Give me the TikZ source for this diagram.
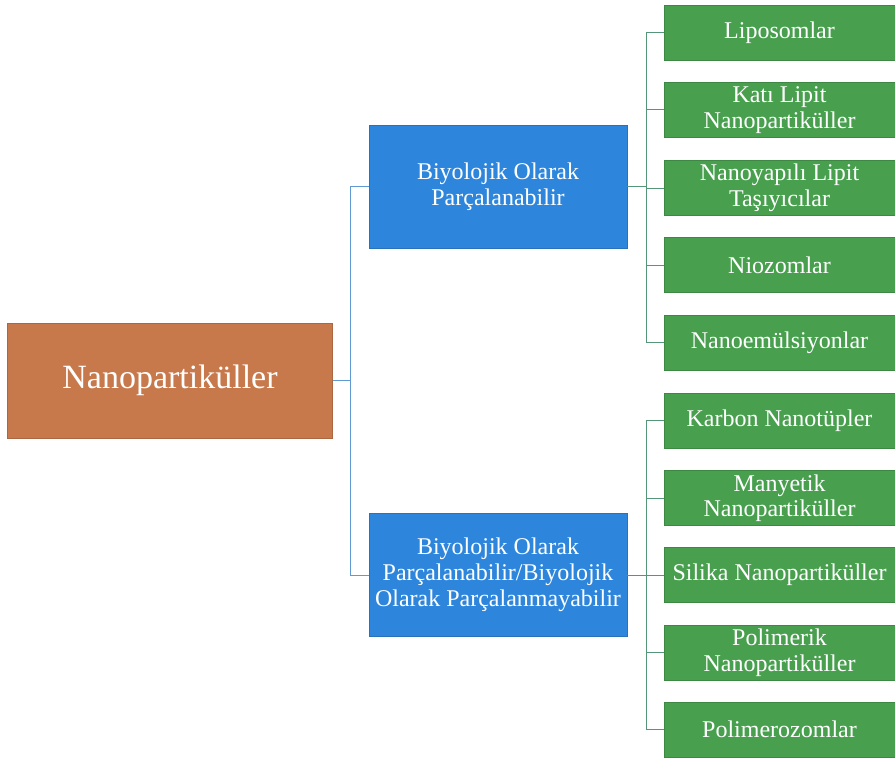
\documentclass[tikz,border=0pt]{standalone}
\usepackage{fontspec}
\setmainfont{Liberation Serif}
\definecolor{rootc}{RGB}{200,121,76}
\definecolor{bluec}{RGB}{46,134,220}
\definecolor{greenc}{RGB}{72,160,78}
\definecolor{lineb}{RGB}{95,155,210}
\definecolor{lineg}{RGB}{85,150,120}
\tikzset{
  rootbox/.style={fill=rootc, draw=rootc!85!black, line width=0.6pt, text=white, minimum width=325pt, minimum height=115pt, align=center, font=\fontsize{34}{36}\selectfont, inner sep=0pt},
  bluebox/.style={fill=bluec, draw=bluec!85!black, line width=0.6pt, text=white, minimum width=258pt, minimum height=123pt, align=center, font=\fontsize{24}{26}\selectfont, inner sep=0pt},
  greenbox/.style={fill=greenc, draw=greenc!85!black, line width=0.6pt, text=white, minimum width=231pt, minimum height=55pt, align=center, font=\fontsize{24}{25.5}\selectfont, inner sep=0pt},
  conb/.style={draw=lineb, line width=1pt},
  cong/.style={draw=lineg, line width=1pt}
}
\begin{document}
\begin{tikzpicture}[x=1pt,y=-1pt]
\useasboundingbox (0,0) rectangle (895,760);
\node[rootbox] (root) at (170,380.5) {Nanopartiküller};
\node[bluebox] (b1) at (498,186.5) {Biyolojik Olarak\\Parçalanabilir};
\node[bluebox] (b2) at (498,575) {Biyolojik Olarak\\Parçalanabilir/Biyolojik\\Olarak Parçalanmayabilir};
\node[greenbox] (g1) at (779.5,32.5) {Liposomlar};
\node[greenbox] (g2) at (779.5,110) {Katı Lipit\\Nanopartiküller};
\node[greenbox] (g3) at (779.5,188) {Nanoyapılı Lipit\\Taşıyıcılar};
\node[greenbox] (g4) at (779.5,265) {Niozomlar};
\node[greenbox] (g5) at (779.5,342.5) {Nanoemülsiyonlar};
\node[greenbox] (g6) at (779.5,420.5) {Karbon Nanotüpler};
\node[greenbox] (g7) at (779.5,498) {Manyetik\\Nanopartiküller};
\node[greenbox] (g8) at (779.5,575) {Silika Nanopartiküller};
\node[greenbox] (g9) at (779.5,652.5) {Polimerik\\Nanopartiküller};
\node[greenbox] (g10) at (779.5,729.5) {Polimerozomlar};
\coordinate (t0) at (350,380.5);
\coordinate (t1) at (646,186.5);
\coordinate (t2) at (646,575);
\draw[conb] (root.east) -- (t0);
\draw[conb] (t0) |- (b1.west);
\draw[conb] (t0) |- (b2.west);
\draw[cong] (b1.east) -- (t1);
\draw[cong] (b2.east) -- (t2);
\foreach \g in {g1,g2,g3,g4,g5} \draw[cong] (t1) |- (\g.west);
\foreach \g in {g6,g7,g8,g9,g10} \draw[cong] (t2) |- (\g.west);
\end{tikzpicture}
\end{document}
